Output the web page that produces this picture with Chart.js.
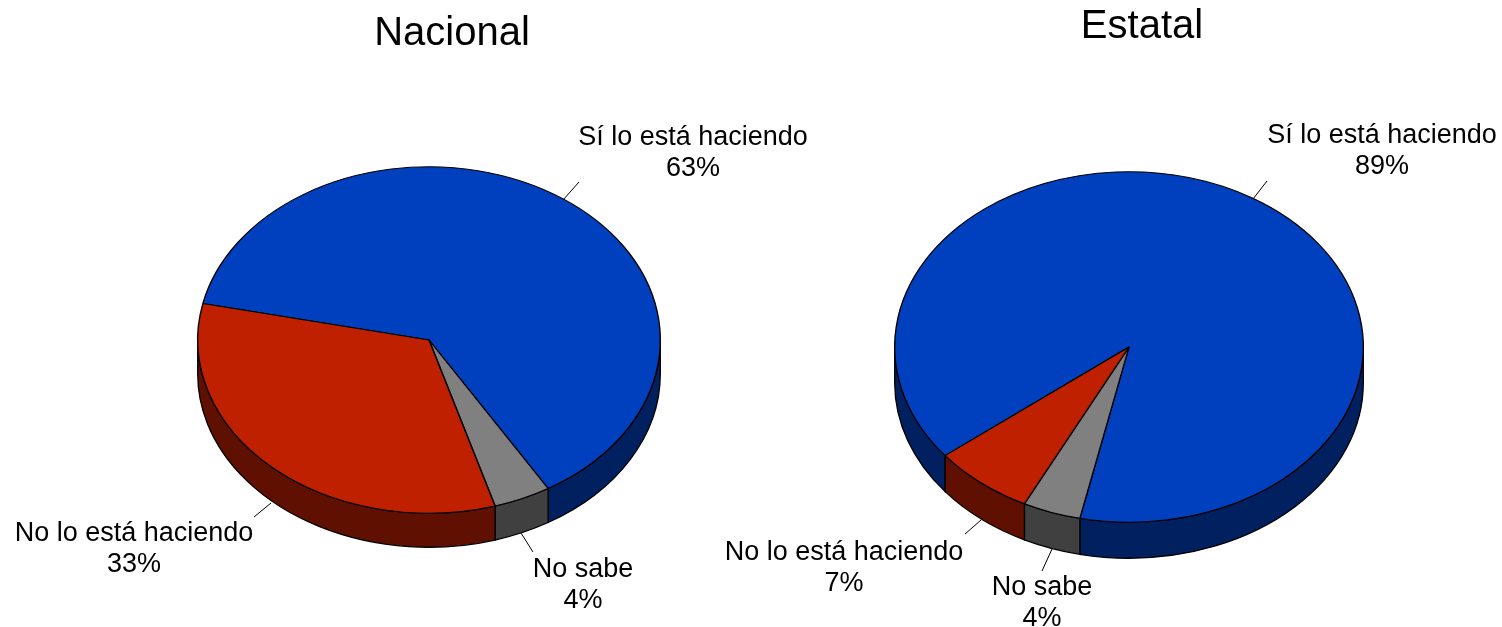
<!DOCTYPE html>
<html>
<head>
<meta charset="utf-8">
<script src="https://cdn.jsdelivr.net/npm/chart.js@4/dist/chart.umd.min.js"></script>
<style>
    html, body { margin: 0; padding: 0; background: #fff; }
    #wrap { position: relative; width: 1502px; height: 627px; overflow: hidden; }
    #wrap canvas { position: absolute; left: 0; top: 0; }
</style>
</head>
<body>
<div id="wrap">
    <canvas id="nacionalChart" width="1502" height="627"></canvas>
    <canvas id="estatalChart" width="1502" height="627"></canvas>
</div>
<script>
// Data
const categories = ['Sí lo está haciendo', 'No sabe', 'No lo está haciendo'];
const nacionalValues = [63, 4, 33];
const estatalValues = [89, 4, 7];

const topColors = ['#0040BF', '#808080', '#BF2000'];
const sideColors = ['#002060', '#404040', '#601000'];

const FONT = '"Liberation Sans", Arial, sans-serif';

// Tilt + side wall, gives the flat pie its 3D look
const tiltPlugin = {
    id: 'tilt',
    beforeDatasetsDraw(chart, args, opts) {
        const ctx = chart.ctx;
        const arcs = chart.getDatasetMeta(0).data;
        const cx = arcs[0].x, cy = arcs[0].y, r = arcs[0].outerRadius;
        const ry = r * opts.ratio;

        ctx.save();
        ctx.lineWidth = 1.3;
        ctx.strokeStyle = '#000';
        arcs.forEach((arc, i) => {
            // only the front half of the rim can be seen
            [0, 2 * Math.PI, -2 * Math.PI].forEach(shift => {
                const from = Math.max(arc.startAngle + shift, 0);
                const to = Math.min(arc.endAngle + shift, Math.PI);
                if (to <= from) return;
                ctx.beginPath();
                ctx.ellipse(cx, cy + opts.depth, r, ry, 0, from, to);
                ctx.ellipse(cx, cy, r, ry, 0, to, from, true);
                ctx.closePath();
                ctx.fillStyle = sideColors[i];
                ctx.fill();
                ctx.stroke();
            });
        });
        ctx.restore();

        ctx.save();
        ctx.translate(cx, cy);
        ctx.scale(1, opts.ratio);
        ctx.translate(-cx, -cy);
    },
    afterDatasetsDraw(chart) {
        chart.ctx.restore();
    }
};

// Title, labels and leader lines
const notesPlugin = {
    id: 'notes',
    afterDraw(chart, args, opts) {
        const ctx = chart.ctx;
        const values = chart.data.datasets[0].data;
        ctx.save();
        ctx.fillStyle = '#000';
        ctx.textAlign = 'center';
        ctx.textBaseline = 'middle';
        ctx.font = '40px ' + FONT;
        ctx.fillText(opts.title, opts.titleAt[0], opts.titleAt[1]);

        ctx.font = '27px ' + FONT;
        chart.data.labels.forEach((label, i) => {
            const [x, y] = opts.labelAt[i];
            ctx.fillText(label, x, y);
            ctx.fillText(values[i] + '%', x, y + 31);

            const l = opts.leaders[i];
            ctx.beginPath();
            ctx.moveTo(l[0], l[1]);
            ctx.lineTo(l[2], l[3]);
            ctx.lineWidth = 1;
            ctx.strokeStyle = '#000';
            ctx.stroke();
        });
        ctx.restore();
    }
};

function makePie(id, values, rotation, box, tilt, notes) {
    return new Chart(document.getElementById(id), {
        type: 'pie',
        data: {
            labels: categories,
            datasets: [{
                data: values,
                backgroundColor: topColors,
                borderColor: '#000',
                borderWidth: 1.4,
                hoverOffset: 0,
                clip: false
            }]
        },
        options: {
            responsive: false,
            animation: false,
            events: [],
            rotation: rotation,
            layout: { padding: box },
            plugins: {
                legend: { display: false },
                tooltip: { enabled: false },
                tilt: tilt,
                notes: notes
            }
        },
        plugins: [tiltPlugin, notesPlugin]
    });
}

makePie('nacionalChart', nacionalValues, 282.2,
    { left: 197, right: 841, top: 108, bottom: 55 },
    { ratio: 0.749, depth: 34 },
    {
        title: 'Nacional',
        titleAt: [452, 34],
        labelAt: [[693, 138], [583, 570], [134, 534]],
        leaders: [[563, 200, 579, 182], [521, 533, 533, 552], [254, 517, 271, 503]]
    });

makePie('estatalChart', estatalValues, 231.7,
    { left: 893.5, right: 137.5, top: 112, bottom: 45 },
    { ratio: 0.748, depth: 36 },
    {
        title: 'Estatal',
        titleAt: [1142, 27],
        labelAt: [[1382, 136], [1042, 588], [844, 553]],
        leaders: [[1253, 199, 1267, 181], [1042, 571, 1052, 549], [965, 534, 981, 520]]
    });
</script>
</body>
</html>
